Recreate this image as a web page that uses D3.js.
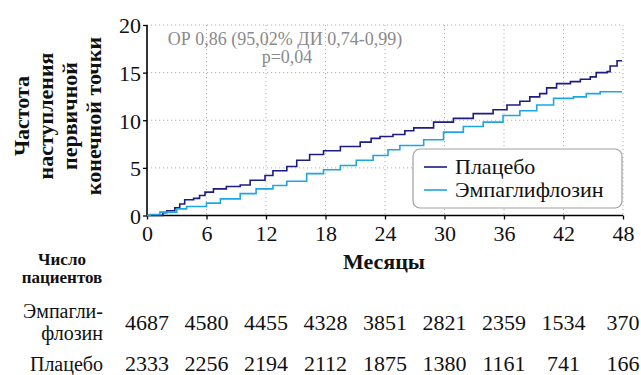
<!DOCTYPE html>
<html>
<head>
<meta charset="utf-8">
<script src="https://cdn.jsdelivr.net/npm/d3@7"></script>
</head>
<body style="margin:0">
<div id="chart"></div>
<script>
// Months on the x axis and their ticks
var monthTicks = [0, 6, 12, 18, 24, 30, 36, 42, 48];
var yTicks = [0, 5, 10, 15, 20];

// Cumulative incidence (%): [month, value]
var placebo = [
  [0, 0], [1.2, 0], [1.6, 0.3], [2.0, 0.5], [2.8, 0.8], [3.3, 1.2], [3.8, 1.65], [4.7, 1.8],
  [5.3, 2.1], [5.85, 2.45], [6.7, 2.8], [8.0, 3.05], [9.4, 3.2], [10.4, 3.7], [11.9, 4.2],
  [12.7, 4.7], [14.1, 5.15], [15.1, 5.8], [16.4, 6.4], [17.8, 6.8], [19.5, 7.25], [21.5, 7.7],
  [22.6, 8.1], [23.5, 8.3], [24.8, 8.5], [26.0, 8.9], [26.9, 9.2], [28.9, 9.8], [30.9, 10.2],
  [32.9, 10.7], [34.9, 11.1], [36.3, 11.6], [37.6, 12.0], [38.6, 12.45], [39.6, 12.8],
  [40.3, 13.4], [41.3, 13.85], [42.7, 14.05], [43.7, 14.3], [44.7, 14.55], [45.3, 15.0],
  [46.4, 15.1], [46.7, 15.7], [47.4, 16.25], [47.9, 16.25]
];
var empagliflozin = [
  [0, 0], [0.3, 0.1], [1.3, 0.35], [3.0, 0.7], [4.0, 0.95], [6.0, 1.3], [7.4, 1.75],
  [9.4, 2.3], [11.0, 2.8], [12.7, 3.15], [14.1, 3.6], [16.1, 4.4], [17.8, 4.8], [19.5, 5.25],
  [21.1, 5.8], [22.8, 6.3], [24.3, 6.9], [25.5, 7.35], [27.9, 7.95], [29.9, 8.75], [31.9, 9.35],
  [33.9, 9.8], [35.9, 10.5], [37.6, 11.0], [39.3, 11.6], [41.0, 12.3], [43.0, 12.45],
  [44.3, 12.8], [45.7, 13.0], [47.9, 13.0]
];

// Number at risk table
var atRiskEmpa = [4687, 4580, 4455, 4328, 3851, 2821, 2359, 1534, 370];
var atRiskPlacebo = [2333, 2256, 2194, 2112, 1875, 1380, 1161, 741, 166];

var seriesNames = ["Плацебо", "Эмпаглифлозин"];
var seriesColors = ["#1c1c84", "#1ea6e2"];

var FONT = "'Liberation Serif', serif";
var width = 641, height = 375;
var margin = {top: 25, left: 147, right: 18, bottom: 160};

var svg = d3.select("#chart").append("svg")
  .attr("width", width)
  .attr("height", height);

var x = d3.scaleLinear().domain([0, 48]).range([margin.left, width - margin.right]);
var y = d3.scaleLinear().domain([0, 20]).range([height - margin.bottom + 0.5, margin.top]);

// grid lines (dotted)
var grid = svg.append("g").attr("class", "grid");
grid.selectAll(".hgrid")
  .data(yTicks.slice(1))
  .enter().append("line")
    .attr("x1", x(0)).attr("x2", x(48))
    .attr("y1", function(d) { return y(d); })
    .attr("y2", function(d) { return y(d); })
    .attr("stroke", "#b0b0b0")
    .attr("stroke-dasharray", "1.2,2.8");
grid.selectAll(".vgrid")
  .data(monthTicks.slice(1))
  .enter().append("line")
    .attr("x1", function(d) { return x(d); })
    .attr("x2", function(d) { return x(d); })
    .attr("y1", y(20)).attr("y2", y(0))
    .attr("stroke", "#b0b0b0")
    .attr("stroke-dasharray", "1.2,2.8");

// axes
var yAxis = svg.append("g")
  .attr("transform", "translate(" + x(0) + ",0)")
  .call(d3.axisLeft(y).tickValues(yTicks).tickSize(4).tickPadding(2));
var xAxis = svg.append("g")
  .attr("transform", "translate(0," + y(0) + ")")
  .call(d3.axisBottom(x).tickValues(monthTicks).tickSize(4).tickPadding(6));
[xAxis, yAxis].forEach(function(a) {
  a.attr("font-size", 22);
  a.select(".domain").attr("stroke", "#000").attr("stroke-width", 1.6);
  a.selectAll(".tick line").attr("stroke", "#000").attr("stroke-width", 1.3);
  a.selectAll("text").attr("fill", "#111").attr("font-size", 22);
});
yAxis.select(".domain").attr("d", "M0," + y(20) + "V" + y(0));
xAxis.select(".domain").attr("d", "M" + x(0) + ",0H" + x(48));
yAxis.selectAll("text").attr("dy", "0.36em");

// curves
var line = d3.line()
  .x(function(d) { return x(d[0]); })
  .y(function(d) { return y(d[1]); })
  .curve(d3.curveStepAfter);
[placebo, empagliflozin].forEach(function(s, i) {
  svg.append("path")
    .datum(s)
    .attr("fill", "none")
    .attr("stroke", seriesColors[i])
    .attr("stroke-width", 1.6)
    .attr("d", line);
});

// hazard ratio annotation
var note = svg.append("g");
note.append("text").attr("x", 285).attr("y", 44.5)
  .attr("font-size", 18).text("ОР 0,86 (95,02% ДИ 0,74-0,99)");
note.append("text").attr("x", 287).attr("y", 62.5)
  .attr("font-size", 18).text("p=0,04");
note.selectAll("text").attr("fill", "#8a8a8a").attr("text-anchor", "middle");

// legend
var legend = svg.append("g").attr("transform", "translate(413,149)");
legend.append("rect")
  .attr("width", 209).attr("height", 59)
  .attr("rx", 7)
  .attr("fill", "#fff")
  .attr("stroke", "#a0a0a0")
  .attr("stroke-width", 1.2);
seriesNames.forEach(function(name, i) {
  var ly = 18 + i * 23;
  legend.append("line")
    .attr("x1", 11).attr("x2", 34)
    .attr("y1", ly).attr("y2", ly)
    .attr("stroke", seriesColors[i])
    .attr("stroke-width", 1.6);
  legend.append("text")
    .attr("x", 42).attr("y", ly + 7)
    .attr("fill", "#111")
    .attr("font-size", 22)
    .text(name);
});

// y axis title
var yTitle = ["Частота", "наступления", "первичной", "конечной точки"];
var yt = svg.append("g").attr("transform", "translate(0,116) rotate(-90)");
yTitle.forEach(function(t, i) {
  yt.append("text")
    .attr("x", 0)
    .attr("y", 29 + i * 24)
    .attr("text-anchor", "middle")
    .attr("fill", "#111")
    .attr("font-weight", "bold")
    .attr("font-size", 22)
    .text(t);
});

// x axis title
svg.append("text")
  .attr("x", 384).attr("y", 269)
  .attr("text-anchor", "middle")
  .attr("fill", "#111")
  .attr("font-weight", "bold")
  .attr("font-size", 22)
  .text("Месяцы");

// number at risk table
var tbl = svg.append("g");
tbl.append("text").attr("x", 62).attr("y", 265).attr("text-anchor", "middle")
  .attr("font-weight", "bold").attr("font-size", 17).text("Число");
tbl.append("text").attr("x", 62).attr("y", 283).attr("text-anchor", "middle")
  .attr("font-weight", "bold").attr("font-size", 17).text("пациентов");
tbl.append("text").attr("x", 103).attr("y", 318).attr("text-anchor", "end")
  .attr("font-size", 20).text("Эмпагли-");
tbl.append("text").attr("x", 103).attr("y", 340).attr("text-anchor", "end")
  .attr("font-size", 20).text("флозин");
tbl.append("text").attr("x", 103).attr("y", 371).attr("text-anchor", "end")
  .attr("font-size", 20).text("Плацебо");

[atRiskEmpa, atRiskPlacebo].forEach(function(row, r) {
  tbl.selectAll(".row" + r)
    .data(row)
    .enter().append("text")
      .attr("x", function(d, i) { return x(monthTicks[i]); })
      .attr("y", r === 0 ? 330 : 371)
      .attr("text-anchor", "middle")
      .attr("font-size", 22)
      .text(function(d) { return d; });
});
tbl.selectAll("text").attr("fill", "#111");

// put the serif face on every text element itself
svg.selectAll("text").attr("font-family", FONT);
</script>
</body>
</html>
